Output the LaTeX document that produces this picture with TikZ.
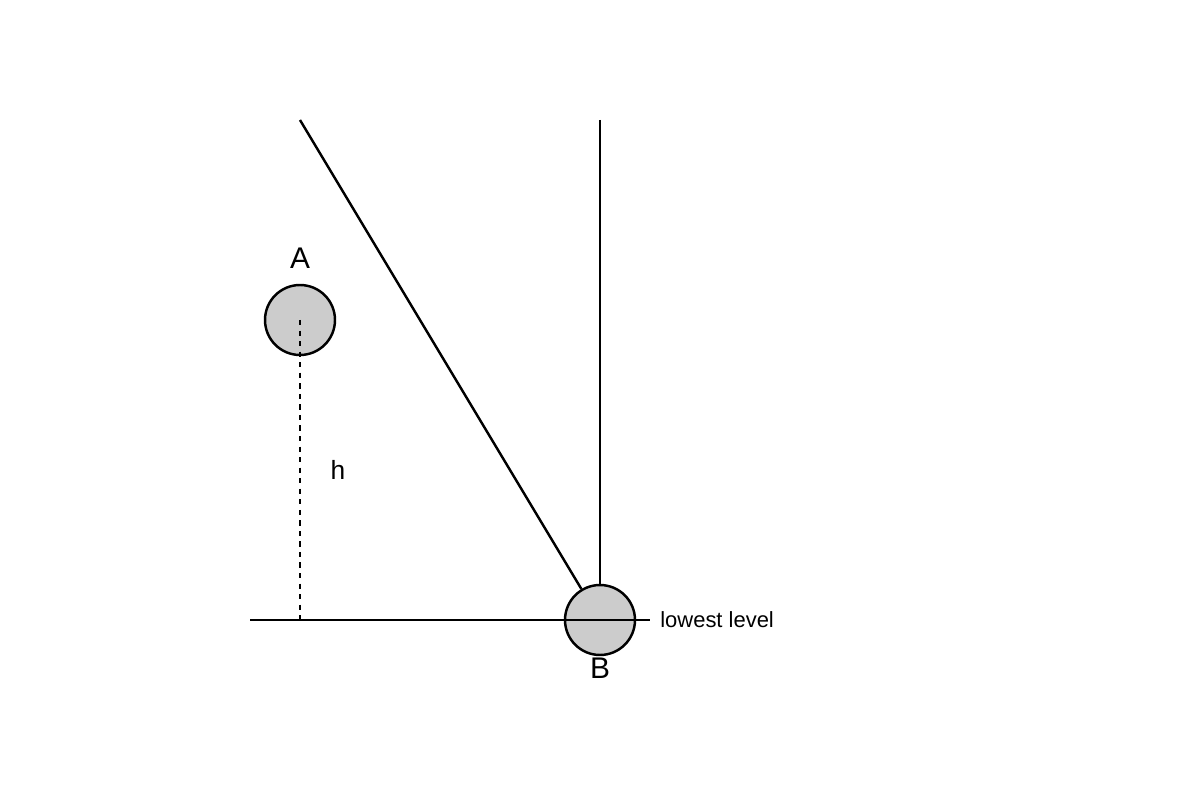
\documentclass[tikz,border=0pt]{standalone}
\usepackage{fontspec}
\setmainfont{Liberation Sans}
\usetikzlibrary{positioning}
\definecolor{ballgray}{HTML}{CCCCCC}
\tikzset{
  ball/.style={draw, circle, fill=ballgray, line width=1.4pt, minimum size=1.4cm, inner sep=0pt},
  rod/.style={line width=1.4pt},
  lbl/.style={font=\fontsize{17}{20}\selectfont},
}
\begin{document}
\begin{tikzpicture}[x=0.02cm, y=-0.02cm]
		\useasboundingbox (0,0) rectangle (1200,800);
		% Balls
		\node[ball] (A) at (300,320) {};
		\node[ball] (B) at (600,620) {};
		\coordinate (top1) at (300,120);
		\coordinate (top2) at (600,120);
		\coordinate (foot) at (300,620);
		\coordinate (lowL) at (250,620);
		\coordinate (lowR) at (650,620);
		
		% Rods
		\draw[rod] (top1) -- (B);
		\draw[rod] (top2) -- (B);
		
		% Height
		\draw[dashed, line width=0.9pt] (A.center) -- (foot);
		\draw[line width=0.9pt] (lowL) -- (lowR);
		
		% Labels
		\node[lbl] (labA) at (300,258) {A};
		\node[lbl] (labB) at (600,668) {B};
		\node[font=\fontsize{15}{18}\selectfont] (labh) at (338,470) {h};
		\node[font=\fontsize{12.5}{15}\selectfont, anchor=west, inner sep=0pt] (lowest) at (660,620) {lowest level};
	\end{tikzpicture}
\end{document}
